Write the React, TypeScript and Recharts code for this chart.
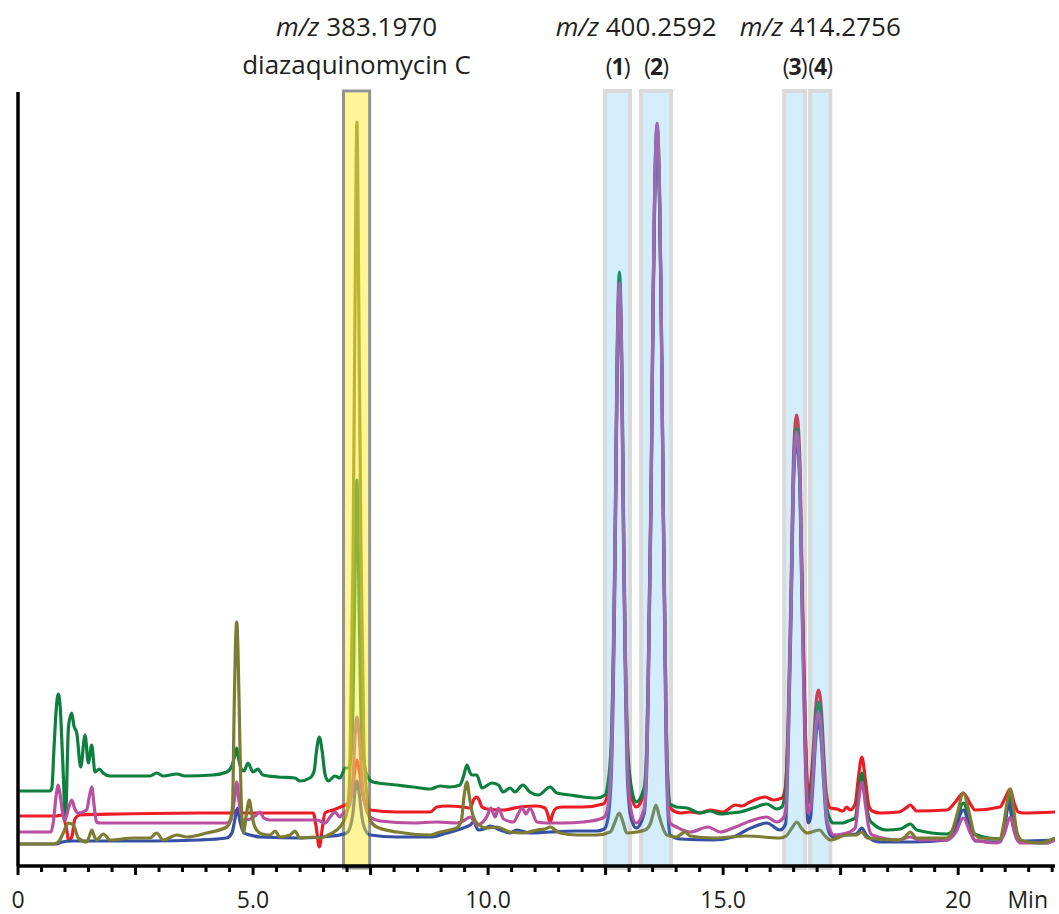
import React from 'react';
import { LineChart, Line, XAxis, YAxis, ReferenceArea } from 'recharts';

type Pt = [number, number];

// retention time (min), relative intensity
const redTrace: Pt[] = [
  [0, 50], [0.81, 50], [0.94, 51], [1.02, 40], [1.085, 25], [1.15, 30], [1.21, 47], [1.32, 51], [2.17, 52], [3.87, 53],
  [4.57, 53], [4.66, 56], [4.74, 53], [6.28, 53], [6.34, 40], [6.41, 19], [6.48, 40], [6.53, 53], [6.7, 56], [6.91, 60],
  [7.0, 62], [7.06, 66], [7.13, 80], [7.17, 98], [7.21, 106], [7.26, 95], [7.32, 75], [7.4, 60], [7.49, 56], [8.06, 54],
  [8.77, 54], [8.91, 59], [9.12, 60], [9.47, 59], [9.62, 58], [9.69, 66], [9.76, 69], [9.81, 66], [9.87, 59], [9.98, 57],
  [10.32, 56], [10.68, 59], [11.04, 60], [11.21, 58], [11.28, 50], [11.32, 43], [11.36, 50], [11.46, 58], [11.6, 59],
  [12.02, 59], [12.45, 62], [12.545, 72], [12.617, 110], [12.705, 334], [12.741, 483], [12.794, 575], [12.847, 483],
  [12.883, 331], [12.971, 110], [13.043, 72], [13.15, 59], [13.319, 73], [13.373, 113], [13.404, 181], [13.468, 377],
  [13.511, 566], [13.543, 667], [13.596, 735], [13.649, 662], [13.681, 561], [13.724, 372], [13.787, 150], [13.83, 75],
  [13.872, 58], [14.09, 53], [14.3, 54], [14.51, 53], [14.72, 56], [15.0, 54], [15.26, 61], [15.4, 60], [15.57, 64],
  [15.89, 69], [16.07, 66], [16.25, 68], [16.33, 80], [16.387, 152], [16.447, 282], [16.504, 417], [16.564, 451],
  [16.624, 417], [16.681, 282], [16.741, 152], [16.81, 73], [16.858, 80], [16.922, 120], [16.964, 155], [17.028, 176],
  [17.092, 155], [17.134, 118], [17.198, 72], [17.283, 58], [17.42, 57], [17.55, 55], [17.63, 59], [17.7, 56], [17.81, 62],
  [17.87, 85], [17.951, 109], [18.03, 85], [18.1, 60], [18.17, 55], [18.34, 53], [18.74, 54], [18.89, 58], [18.98, 61],
  [19.12, 55], [19.76, 56], [19.94, 64], [20.11, 73], [20.26, 62], [20.36, 56], [20.89, 59], [21.0, 68], [21.106, 77],
  [21.19, 63], [21.28, 54], [21.39, 53], [22.06, 54],
];

const greenTrace: Pt[] = [
  [0, 75], [0.68, 75], [0.72, 78], [0.766, 118], [0.815, 158], [0.857, 172], [0.899, 158], [0.947, 110], [1.01, 50],
  [1.075, 140], [1.143, 153], [1.19, 140], [1.25, 133], [1.334, 99], [1.426, 131], [1.496, 103], [1.568, 121], [1.638, 94],
  [1.73, 97], [1.81, 93], [1.96, 90], [2.38, 90], [2.81, 90], [2.95, 93], [3.09, 90], [3.38, 92], [3.55, 90], [4.15, 91],
  [4.44, 94], [4.55, 100], [4.62, 112], [4.653, 118], [4.69, 108], [4.75, 97], [4.81, 95], [4.89, 103], [5.0, 94],
  [5.1, 97], [5.21, 91], [5.53, 89], [5.89, 88], [6.0, 85], [6.21, 88], [6.3, 95], [6.35, 115], [6.41, 129], [6.47, 115],
  [6.53, 92], [6.6, 85], [6.74, 90], [6.85, 88], [6.96, 98], [7.04, 98], [7.11, 130], [7.16, 260], [7.21, 386], [7.26, 250],
  [7.31, 130], [7.42, 91], [7.55, 84], [8.06, 81], [8.4, 79], [8.77, 77], [8.98, 80], [9.19, 79], [9.4, 81], [9.48, 90],
  [9.55, 101], [9.61, 94], [9.65, 91], [9.76, 91], [9.87, 78], [10.08, 83], [10.22, 81], [10.32, 74], [10.47, 78],
  [10.57, 74], [10.74, 81], [10.89, 74], [11.07, 71], [11.32, 79], [11.46, 73], [11.74, 71], [12.02, 69], [12.31, 68],
  [12.49, 71], [12.545, 81], [12.617, 121], [12.705, 348], [12.741, 500], [12.794, 594], [12.847, 500], [12.883, 345],
  [12.971, 119], [13.043, 80], [13.15, 64], [13.319, 78], [13.373, 118], [13.404, 186], [13.468, 382], [13.511, 571],
  [13.543, 672], [13.596, 740], [13.649, 667], [13.681, 566], [13.724, 377], [13.787, 150], [13.83, 80], [13.872, 62],
  [14.01, 59], [14.23, 58], [14.51, 53], [14.72, 55], [14.94, 52], [15.15, 53], [15.36, 54], [15.64, 58], [15.93, 62],
  [16.14, 57], [16.25, 59], [16.33, 79], [16.387, 143], [16.447, 272], [16.504, 404], [16.564, 438], [16.624, 404],
  [16.681, 272], [16.741, 143], [16.81, 63], [16.858, 70], [16.922, 110], [16.964, 142], [17.028, 164], [17.092, 142],
  [17.134, 105], [17.198, 60], [17.283, 46], [17.34, 43], [17.55, 43], [17.66, 45], [17.81, 48], [17.87, 67], [17.951, 93],
  [18.03, 67], [18.1, 48], [18.17, 43], [18.48, 36], [18.77, 37], [18.89, 40], [18.98, 42], [19.12, 36], [19.76, 32],
  [19.89, 36], [19.98, 48], [20.11, 63], [20.24, 46], [20.34, 32], [20.89, 27], [20.98, 36], [21.04, 55], [21.106, 70],
  [21.17, 52], [21.26, 30], [21.38, 24], [21.89, 23], [22.06, 28],
];

const blueTrace: Pt[] = [
  [0, 22], [0.79, 22], [0.94, 24], [1.1, 25], [1.74, 25], [2.81, 25], [3.87, 26], [4.44, 28], [4.55, 33], [4.62, 48],
  [4.67, 58], [4.72, 45], [4.81, 33], [4.94, 31], [5.15, 29], [6.0, 28], [6.7, 30], [6.99, 33], [7.06, 38], [7.13, 55],
  [7.17, 75], [7.21, 85], [7.26, 72], [7.32, 48], [7.4, 35], [7.49, 31], [8.06, 29], [8.77, 29], [9.12, 33], [9.47, 38],
  [9.62, 41], [9.69, 44], [9.79, 36], [9.91, 37], [10.04, 40], [10.26, 36], [10.47, 33], [10.61, 36], [10.89, 33],
  [11.32, 34], [11.85, 35], [12.31, 35], [12.47, 37], [12.545, 46], [12.617, 86], [12.705, 316], [12.741, 470],
  [12.794, 565], [12.847, 470], [12.883, 316], [12.971, 80], [13.043, 48], [13.15, 38], [13.319, 52], [13.373, 93],
  [13.404, 163], [13.468, 363], [13.511, 557], [13.543, 661], [13.596, 730], [13.649, 661], [13.681, 560], [13.724, 363],
  [13.787, 120], [13.83, 50], [13.872, 31], [14.09, 27], [14.79, 26], [15.21, 29], [15.5, 36], [15.93, 43], [16.21, 36],
  [16.33, 42], [16.387, 123], [16.447, 255], [16.504, 390], [16.564, 425], [16.624, 390], [16.681, 255], [16.741, 123],
  [16.81, 43], [16.858, 48], [16.922, 90], [16.964, 123], [17.028, 145], [17.092, 122], [17.134, 88], [17.198, 45],
  [17.283, 31], [17.35, 29], [17.63, 31], [17.83, 32], [17.951, 38], [18.06, 30], [18.34, 24], [19.05, 24], [19.76, 26],
  [19.94, 38], [20.11, 56], [20.26, 36], [20.36, 25], [20.89, 24], [20.98, 40], [21.07, 64], [21.17, 40], [21.28, 25],
  [22.06, 26],
];

const magentaTrace: Pt[] = [
  [0, 34], [0.7, 34], [0.755, 45], [0.81, 70], [0.857, 81], [0.9, 70], [0.96, 50], [1.0, 46], [1.075, 58], [1.143, 66],
  [1.21, 57], [1.28, 53], [1.46, 56], [1.52, 70], [1.57, 79], [1.62, 60], [1.67, 44], [1.745, 43], [2.81, 43], [3.87, 43],
  [4.44, 43], [4.53, 46], [4.6, 65], [4.653, 84], [4.7, 65], [4.79, 46], [4.94, 47], [5.04, 50], [5.15, 54], [5.23, 48],
  [5.36, 46], [6.0, 46], [6.36, 46], [6.53, 43], [6.64, 49], [6.74, 54], [6.85, 49], [6.92, 53], [7.0, 56], [7.06, 62],
  [7.13, 90], [7.17, 130], [7.21, 149], [7.26, 128], [7.32, 85], [7.4, 58], [7.49, 49], [7.7, 45], [8.4, 43], [8.91, 44],
  [9.33, 43], [9.47, 45], [9.62, 49], [9.76, 41], [9.89, 44], [9.98, 50], [10.06, 58], [10.15, 49], [10.22, 58],
  [10.33, 47], [10.54, 44], [10.64, 52], [10.72, 58], [10.81, 52], [10.89, 58], [11.04, 44], [11.25, 43], [11.6, 43],
  [12.02, 44], [12.38, 47], [12.47, 49], [12.545, 58], [12.617, 99], [12.705, 332], [12.741, 487], [12.794, 583],
  [12.847, 487], [12.883, 332], [12.971, 98], [13.043, 55], [13.15, 43], [13.319, 57], [13.373, 99], [13.404, 169],
  [13.468, 372], [13.511, 568], [13.543, 673], [13.596, 743], [13.649, 673], [13.681, 572], [13.724, 372], [13.787, 135],
  [13.83, 62], [13.872, 43], [14.01, 39], [14.3, 34], [14.68, 39], [14.94, 34], [15.21, 38], [15.64, 46], [15.93, 49],
  [16.14, 44], [16.28, 48], [16.33, 55], [16.387, 133], [16.447, 264], [16.504, 399], [16.564, 434], [16.624, 399],
  [16.681, 264], [16.741, 133], [16.81, 53], [16.858, 58], [16.922, 100], [16.964, 133], [17.028, 154], [17.092, 130],
  [17.134, 95], [17.198, 50], [17.283, 35], [17.35, 31], [17.63, 33], [17.81, 38], [17.87, 60], [17.951, 84], [18.03, 60],
  [18.1, 38], [18.17, 31], [18.74, 26], [18.98, 29], [19.19, 26], [19.76, 26], [19.94, 33], [20.11, 48], [20.26, 33],
  [20.36, 26], [20.82, 23], [20.98, 32], [21.106, 49], [21.21, 32], [21.32, 23], [21.89, 23], [22.06, 26],
];

const oliveTrace: Pt[] = [
  [0, 22], [0.745, 22], [0.857, 24], [0.964, 33], [1.07, 43], [1.177, 41], [1.283, 28], [1.46, 24], [1.52, 30], [1.57, 36],
  [1.62, 30], [1.67, 26], [1.815, 32], [1.96, 26], [2.45, 28], [2.81, 28], [2.95, 33], [3.09, 26], [3.38, 31], [3.59, 29],
  [4.01, 33], [4.44, 39], [4.5, 43], [4.564, 60], [4.596, 150], [4.623, 215], [4.653, 244], [4.68, 215], [4.709, 150],
  [4.745, 70], [4.794, 33], [4.86, 52], [4.92, 66], [4.98, 50], [5.04, 39], [5.19, 32], [5.36, 31], [5.47, 35], [5.57, 29],
  [5.79, 31], [5.89, 35], [6.0, 28], [6.28, 29], [6.43, 28], [6.6, 31], [6.78, 36], [6.92, 44], [7.0, 54], [7.06, 93],
  [7.125, 300], [7.17, 560], [7.21, 744], [7.25, 560], [7.295, 320], [7.36, 115], [7.42, 72], [7.49, 46], [7.63, 39],
  [8.06, 34], [8.77, 31], [8.98, 34], [9.33, 38], [9.43, 45], [9.49, 70], [9.55, 84], [9.6, 70], [9.65, 56], [9.76, 43],
  [9.97, 38], [10.19, 39], [10.47, 34], [10.75, 33], [11.04, 36], [11.21, 37], [11.32, 39], [11.43, 36], [11.53, 33],
  [11.89, 31], [12.31, 31], [12.6, 34], [12.7, 44], [12.79, 53], [12.87, 44], [12.95, 33], [13.16, 34], [13.34, 36],
  [13.45, 42], [13.51, 52], [13.57, 61], [13.64, 50], [13.72, 38], [13.8, 31], [14.01, 29], [14.11, 32], [14.19, 34],
  [14.3, 30], [14.79, 28], [15.5, 30], [16.21, 28], [16.34, 30], [16.45, 37], [16.57, 44], [16.66, 38], [16.78, 33],
  [16.89, 34], [17.05, 36], [17.17, 30], [17.28, 26], [17.63, 31], [17.83, 31], [17.95, 34], [18.06, 28], [18.74, 26],
  [18.87, 29], [18.98, 34], [19.11, 28], [19.76, 28], [19.87, 35], [19.98, 52], [20.11, 73], [20.24, 52], [20.34, 33],
  [20.47, 28], [20.89, 27], [20.98, 45], [21.04, 63], [21.106, 77], [21.17, 60], [21.26, 32], [21.38, 25], [21.74, 23],
  [22.06, 28],
];

// highlighted retention windows (min)
const boxFrom = [6.925, 12.49, 13.255, 16.3, 16.85];
const boxTo = [7.48, 13.02, 13.894, 16.745, 17.28];
const boxKind = ['known', 'hit', 'hit', 'hit', 'hit'];
const boxTag = ['', '1', '2', '3', '4'];

// annotation groups
const groupFrom = [6.925, 12.49, 16.3];
const groupTo = [7.48, 13.894, 17.28];
const groupMz = ['383.1970', '400.2592', '414.2756'];
const groupName = ['diazaquinomycin C', '', ''];
const groupShift = [0, -2, 13];

const xMax = 22.06;
const yMax = 774;
const minorTicks: number[] = Array.from({ length: 45 }, (_, i) => i * 0.5);
const labeledTicks = [0, 5, 10, 15, 20];
const labeledTickText = ['0', '5.0', '10.0', '15.0', '20'];

const FONT = '"Open Sans", "DejaVu Sans", sans-serif';
const INK = '#231f20';

const rows = (arr: Pt[]) => arr.map(([t, v]) => ({ t, v }));

const series = [
  { name: 'red', data: rows(redTrace), color: '#ed1c24' },
  { name: 'green', data: rows(greenTrace), color: '#0d8040' },
  { name: 'blue', data: rows(blueTrace), color: '#3651a3' },
  { name: 'magenta', data: rows(magentaTrace), color: '#b8509f' },
  { name: 'olive', data: rows(oliveTrace), color: '#7c7c33' },
];

const AxisTick = (props: any) => {
  const { x, y, payload } = props;
  const v = payload.value as number;
  const q = v / 2.5;
  const major = Math.abs(q - Math.round(q)) < 1e-6;
  const idx = labeledTicks.indexOf(v);
  return (
    <g>
      <line x1={x} x2={x} y1={y} y2={y + (major ? 9 : 6)} stroke="#000" strokeWidth={3} />
      {idx >= 0 && (
        <text x={x} y={y + 42} textAnchor="middle" fontFamily={FONT} fontSize={23} fill={INK}>
          {labeledTickText[idx]}
        </text>
      )}
    </g>
  );
};

const borderShape = (kind: string) => (p: any) => {
  const sw = kind === 'known' ? 3 : 4;
  return (
    <rect x={p.x} y={p.y} width={p.width} height={p.height} fill="none"
      stroke={kind === 'known' ? '#939393' : '#dadada'} strokeWidth={sw} />
  );
};

const fillShape = (kind: string) => (p: any) => {
  const sw = kind === 'known' ? 3 : 4;
  return (
    <rect x={p.x + sw / 2} y={p.y + sw / 2} width={Math.max(0, p.width - sw)} height={Math.max(0, p.height - sw)}
      fill={kind === 'known' ? '#ffeb32' : '#53b7eb'} fillOpacity={kind === 'known' ? 0.5 : 0.25} stroke="none" />
  );
};

const groupLabel = (i: number) => (p: any) => {
  const vb = p.viewBox;
  const cx = vb.x + vb.width / 2 + groupShift[i];
  return (
    <g>
      <text x={cx} y={vb.y - 56} textAnchor="middle" fontFamily={FONT} fontSize={26} fill={INK}>
        <tspan fontStyle="italic">m/z</tspan>
        <tspan>{' ' + groupMz[i]}</tspan>
      </text>
      {groupName[i] && (
        <text x={vb.x + vb.width / 2} y={vb.y - 18} textAnchor="middle" fontFamily={FONT} fontSize={26} fill={INK}>
          {groupName[i]}
        </text>
      )}
    </g>
  );
};

const tagLabel = (i: number) => (p: any) => {
  const vb = p.viewBox;
  return (
    <text x={vb.x + vb.width / 2} y={vb.y - 17} textAnchor="middle" fontFamily={FONT} fontSize={23}
      letterSpacing={-1} fill={INK}>
      <tspan>(</tspan>
      <tspan fontWeight="bold">{boxTag[i]}</tspan>
      <tspan>)</tspan>
    </text>
  );
};

const minLabel = (p: any) => {
  const vb = p.viewBox;
  return (
    <text x={vb.x + vb.width - 7} y={vb.y + 42} textAnchor="end" fontFamily={FONT} fontSize={23} fill={INK}>
      Min
    </text>
  );
};

export default function App() {
  return (
    <div style={{ position: 'absolute', left: 0, top: 0, width: 1059, height: 914, background: '#fff' }}>
      <LineChart width={1059} height={914} margin={{ top: 92, right: 4, bottom: 8, left: 10 }}>
        <XAxis
          type="number"
          dataKey="t"
          domain={[0, xMax]}
          ticks={minorTicks}
          interval={0}
          allowDataOverflow
          tickSize={0}
          tickMargin={0}
          tickLine={false}
          tick={<AxisTick />}
          height={40}
          axisLine={{ stroke: '#000', strokeWidth: 3.5 }}
          label={minLabel}
        />
        <YAxis
          type="number"
          domain={[0, yMax]}
          allowDataOverflow
          width={8}
          tick={false}
          tickLine={false}
          axisLine={{ stroke: '#000', strokeWidth: 3.5 }}
        />
        {boxFrom.map((f, i) => (
          <ReferenceArea key={'b' + i} x1={f} x2={boxTo[i]} y1={-2} y2={775} ifOverflow="visible"
            shape={borderShape(boxKind[i])} zIndex={350} />
        ))}
        {series.map((s) => (
          <Line key={s.name} data={s.data} dataKey="v" type="monotone" stroke={s.color} strokeWidth={3.2}
            dot={false} activeDot={false} isAnimationActive={false} strokeLinejoin="round" />
        ))}
        {boxFrom.map((f, i) => (
          <ReferenceArea key={'f' + i} x1={f} x2={boxTo[i]} y1={-2} y2={775} ifOverflow="visible"
            shape={fillShape(boxKind[i])} zIndex={450} />
        ))}
        {boxFrom.map((f, i) =>
          boxTag[i] ? (
            <ReferenceArea key={'t' + i} x1={f} x2={boxTo[i]} ifOverflow="visible" fill="none" fillOpacity={0}
              stroke="none" label={tagLabel(i)} />
          ) : null
        )}
        {groupFrom.map((f, i) => (
          <ReferenceArea key={'g' + i} x1={f} x2={groupTo[i]} ifOverflow="visible" fill="none" fillOpacity={0}
            stroke="none" label={groupLabel(i)} />
        ))}
      </LineChart>
    </div>
  );
}
